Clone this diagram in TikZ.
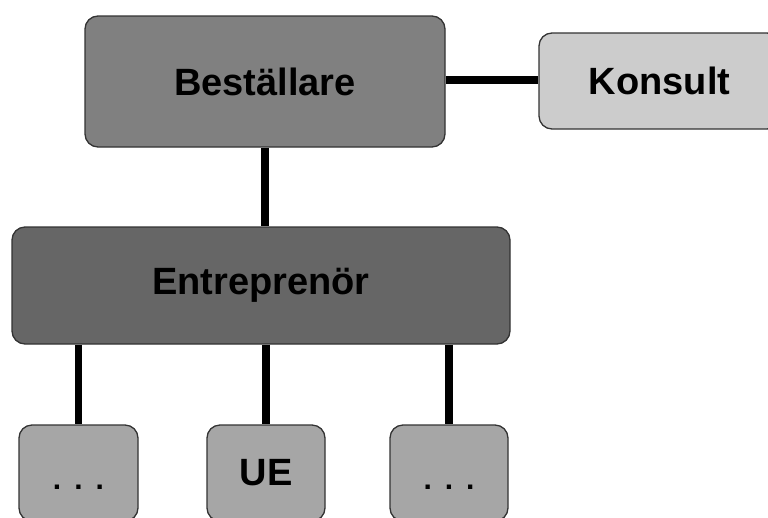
\documentclass[tikz,border=0pt]{standalone}
\usepackage{fontspec}
\setmainfont{Liberation Sans}
\usetikzlibrary{backgrounds}
\definecolor{cBest}{HTML}{808080}
\definecolor{cKons}{HTML}{CCCCCC}
\definecolor{cEntr}{HTML}{666666}
\definecolor{cSub}{HTML}{A6A6A6}
\definecolor{cBorder}{HTML}{333333}
\tikzset{
  box/.style={draw=cBorder, line width=1.3pt, rounded corners=13pt, inner sep=0pt,
    font=\fontsize{38}{40}\selectfont\bfseries, text=black},
  dots/.style={font=\fontsize{30}{32}\selectfont\bfseries, inner sep=0pt, anchor=base},
  link/.style={line width=7.5pt, black}
}
\begin{document}
\begin{tikzpicture}[x=1pt,y=-1pt]
\useasboundingbox (0,0) rectangle (768,517);
\clip (0,0) rectangle (768,517);
\node[box, fill=cBest, minimum width=360pt, minimum height=131pt] (best) at (265,81.5) {Beställare};
\node[box, fill=cKons, minimum width=241pt, minimum height=96pt] (kons) at (659.5,81) {Konsult};
\node[box, fill=cEntr, minimum width=498pt, minimum height=117pt] (entr) at (261,285.5) {Entreprenör};
\node[box, fill=cSub, minimum width=119pt, minimum height=96pt] (s1) at (78.5,473) {};
\node[box, fill=cSub, minimum width=118pt, minimum height=96pt] (s2) at (266,473) {UE};
\node[box, fill=cSub, minimum width=118pt, minimum height=96pt] (s3) at (449,473) {};
\node[dots] (d1) at (78.5,489) {.\hspace{13pt}.\hspace{13pt}.};
\node[dots] (d3) at (449,489) {.\hspace{13pt}.\hspace{13pt}.};
\begin{scope}[on background layer]
\draw[link] (best.east |- 0,80) -- (kons.west |- 0,80);
\draw[link] (best.south) -- (best.south |- entr.north);
\draw[link] (entr.south -| s1.north) -- (s1.north);
\draw[link] (entr.south -| s2.north) -- (s2.north);
\draw[link] (entr.south -| s3.north) -- (s3.north);
\end{scope}
\end{tikzpicture}
\end{document}
